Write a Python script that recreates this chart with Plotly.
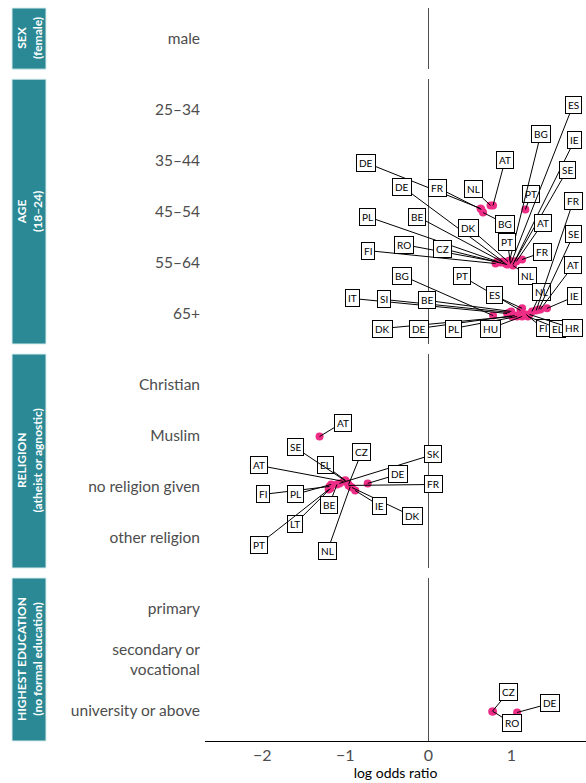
import plotly.graph_objects as go
from plotly.subplots import make_subplots

PINK = "#EE2D87"
TEAL = "#2A8995"
FONT = "Lato, 'Open Sans', sans-serif"

# ---- category levels per facet (reference level shown in the strip) ----
sex_levels = ["male"]
age_levels = ["25–34", "35–44", "45–54", "55–64", "65+"]
religion_levels = ["Christian", "Muslim", "no religion given", "other religion"]
education_levels = ["primary", "secondary or<br>vocational", "university or above"]

# ---- significant country estimates (log odds ratios) ----
age_group = ["45–54"] * 6 + ["55–64"] * 15 + ["65+"] * 18
age_country = [
    "DE", "FR", "BG", "NL", "AT", "PT",
    "FI", "PL", "RO", "DE", "BE", "CZ", "DK", "BG", "PT", "ES", "IE", "SE", "NL", "AT", "FR",
    "BG", "IT", "SI", "BE", "DK", "DE", "PL", "HU", "PT", "ES", "FI", "EL", "HR", "NL", "FR", "SE", "AT", "IE",
]
age_logodds = [
    0.63, 0.64, 0.66, 0.75, 0.78, 1.17,
    0.81, 0.83, 0.87, 0.90, 0.93, 0.95, 0.96, 0.98, 0.99, 1.00, 1.02, 1.04, 1.02, 1.06, 1.13,
    0.78, 0.95, 0.98, 1.00, 1.01, 1.04, 1.07, 1.13, 1.11, 1.13, 1.18, 1.20, 1.22, 1.25, 1.30, 1.33, 1.35, 1.43,
]
age_jitter = [
    -0.06, -0.04, 0.02, -0.12, -0.12, -0.04,
    0.02, -0.02, 0.0, -0.02, 0.02, 0.04, -0.02, -0.04, 0.02, 0.0, 0.04, -0.02, 0.06, -0.02, -0.06,
    0.04, 0.0, -0.02, -0.04, 0.06, 0.04, 0.06, 0.06, -0.06, -0.10, 0.02, 0.06, 0.02, -0.04, -0.06, -0.08, -0.08, -0.10,
]

religion_group = ["Muslim"] + ["no religion given"] * 15
religion_country = ["AT", "FI", "PL", "LT", "PT", "BE", "SK", "AT", "EL", "SE", "CZ", "FR", "NL", "DK", "IE", "DE"]
religion_logodds = [-1.31, -1.19, -1.17, -1.18, -1.20, -1.10, -1.07, -1.02, -1.00, -0.99, -0.96, -0.96, -0.94, -0.92, -0.88, -0.73]
religion_jitter = [0.02, 0.0, -0.04, 0.04, 0.06, -0.04, -0.06, -0.10, -0.12, -0.10, -0.04, -0.02, 0.0, 0.02, 0.08, -0.06]

education_group = ["university or above"] * 3
education_country = ["CZ", "RO", "DE"]
education_logodds = [0.77, 0.78, 1.07]
education_jitter = [0.02, 0.02, 0.04]

# ---- repelled label placement (pixel offsets from each point) ----
age_label_dx = [
    -115, -44, 22, -17, 12, 6,
    -128, -130, -97, -101, -88, -65, -39, 31, -3, 62, 62, 53, 15, 27, 20,
    -91, -155, -126, -84, -130, -96, -64, -32, -58, -28, 17, 30, 43, 9, 37, 35, 33, 28,
]
age_label_dy = [
    -46, -22, 11, -16, -45, -16,
    -13, -45, -18, -75, -47, -16, -34, -126, -22, -158, -125, -92, 10, -39, -7,
    -40, -15, -13, -11, 12, 13, 12, 12, -34, -13, 14, 12, 14, -19, -109, -75, -44, -12,
]
religion_label_dx = [23, -67, -36, -35, -70, -8, 94, -85, -20, -51, 13, 85, -23, 61, 24, 30]
religion_label_dy = [-14, 8, 10, 35, 55, 21, -29, -16, -15, -34, -32, -1, 65, 29, 15, -9]
education_label_dx = [16, 19, 33]
education_label_dy = [-19, 12, -9]

panels = [
    dict(title="SEX", ref="(female)", levels=sex_levels,
         group=[], country=[], value=[], jitter=[], dx=[], dy=[]),
    dict(title="AGE", ref="(18–24)", levels=age_levels,
         group=age_group, country=age_country, value=age_logodds, jitter=age_jitter,
         dx=age_label_dx, dy=age_label_dy),
    dict(title="RELIGION", ref="(atheist or agnostic)", levels=religion_levels,
         group=religion_group, country=religion_country, value=religion_logodds, jitter=religion_jitter,
         dx=religion_label_dx, dy=religion_label_dy),
    dict(title="HIGHEST EDUCATION", ref="(no formal education)", levels=education_levels,
         group=education_group, country=education_country, value=education_logodds, jitter=education_jitter,
         dx=education_label_dx, dy=education_label_dy),
]

FIG_W, FIG_H = 586, 783
PLOT_LEFT = 205
PLOT_W = FIG_W - PLOT_LEFT

heights = [len(p["levels"]) + 0.2 for p in panels]
fig = make_subplots(rows=4, cols=1, shared_xaxes=True, row_heights=heights, vertical_spacing=10 / 733)


def px_to_paper(px):
    return (px - PLOT_LEFT) / PLOT_W


for i, p in enumerate(panels):
    row = i + 1
    n = len(p["levels"])
    ys = [p["levels"].index(g) + j for g, j in zip(p["group"], p["jitter"])]
    fig.add_trace(go.Scatter(
        x=p["value"], y=ys, mode="markers", text=p["country"],
        marker={"size": 8, "color": PINK}, hoverinfo="text+x", showlegend=False,
    ), row=row, col=1)
    for c, xv, yv, dx, dy in zip(p["country"], p["value"], ys, p["dx"], p["dy"]):
        fig.add_annotation(
            x=xv, y=yv, text=c, showarrow=True, arrowhead=0, arrowwidth=1, arrowcolor="black",
            ax=dx, ay=dy, standoff=0, font={"size": 10, "color": "black", "family": FONT},
            bgcolor="white", bordercolor="black", borderwidth=1, borderpad=2,
            row=row, col=1,
        )
    fig.update_yaxes(
        row=row, col=1, range=[n - 0.4, -0.6], tickvals=list(range(n)), ticktext=p["levels"],
        showgrid=False, zeroline=False, ticks="", showline=False, ticklabelstandoff=4,
        tickfont={"size": 15.5, "color": "#4D4D4D", "family": FONT},
    )
    ysuf = "" if row == 1 else str(row)
    fig.add_shape(type="rect", xref="paper", yref=f"y{ysuf} domain",
                  x0=px_to_paper(12), x1=px_to_paper(46), y0=0, y1=1,
                  fillcolor=TEAL, line={"color": "#D8ECEE", "width": 1}, layer="below")
    fig.add_annotation(
        xref="paper", yref=f"y{ysuf} domain", x=px_to_paper(29.5), y=0.5,
        xanchor="center", yanchor="middle", showarrow=False,
        text=f"<b>{p['title']}</b><br><b>{p['ref']}</b>", textangle=-90,
        font={"size": 12, "color": "white", "family": FONT},
    )

fig.update_xaxes(
    range=[-2.69, 1.90], showgrid=False, zeroline=True, zerolinecolor="#4D4D4D", zerolinewidth=1.2,
    tickvals=[-2, -1, 0, 1], ticks="",
)
fig.update_xaxes(
    row=4, col=1, showline=True, linecolor="black", linewidth=1.2,
    tickfont={"size": 16, "color": "#4D4D4D", "family": FONT},
    title={"text": "log odds ratio", "font": {"size": 14, "color": "black", "family": FONT}, "standoff": 4},
)

fig.update_layout(
    width=FIG_W, height=FIG_H,
    margin={"l": PLOT_LEFT, "r": 0, "t": 8, "b": 42},
    paper_bgcolor="white", plot_bgcolor="white",
    font={"family": FONT},
    showlegend=False,
)

# drop the default page margin so the figure fills the window exactly
fig.write_html(
    "out.html",
    config={"displayModeBar": False},
    post_script="document.body.style.margin='0';document.body.style.overflow='hidden';",
)
